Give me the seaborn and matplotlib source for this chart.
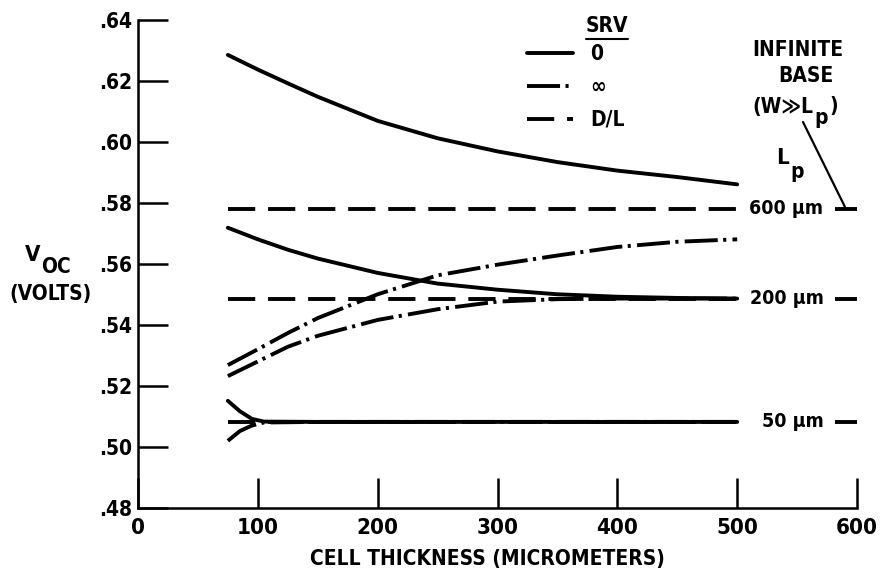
import matplotlib
matplotlib.use("Agg")
import matplotlib.pyplot as plt
import seaborn as sns
import pandas as pd

# ---------------- data ----------------
thickness = [75, 100, 125, 150, 200, 250, 300, 350, 400, 450, 500]
voc_srv0_lp600 = [0.6284, 0.6236, 0.6191, 0.6147, 0.6068, 0.6011, 0.5968, 0.5933, 0.5905, 0.5884, 0.5860]
voc_srv0_lp200 = [0.5718, 0.5680, 0.5646, 0.5617, 0.5570, 0.5535, 0.5515, 0.5500, 0.5492, 0.5488, 0.5486]
voc_srvinf_lp600 = [0.5268, 0.5320, 0.5373, 0.5422, 0.5500, 0.5562, 0.5597, 0.5627, 0.5655, 0.5672, 0.5680]
voc_srvinf_lp200 = [0.5232, 0.5280, 0.5328, 0.5364, 0.5416, 0.5451, 0.5476, 0.5484, 0.5486, 0.5486, 0.5486]

thickness_50 = [75, 85, 95, 105, 150, 200, 300, 400, 500]
voc_srv0_lp50 = [0.5151, 0.5117, 0.5092, 0.5083, 0.5082, 0.5082, 0.5082, 0.5082, 0.5082]
voc_srvinf_lp50 = [0.5020, 0.5052, 0.5070, 0.5080, 0.5082, 0.5082, 0.5082, 0.5082, 0.5082]

thickness_dl = [75, 500]
lp_labels = ["600 \u00b5m", "200 \u00b5m", "50 \u00b5m"]
voc_dl = [0.5780, 0.5486, 0.5082]          # D/L (flat) curves, and infinite-base values
infinite_base_x = [582, 600]

xticks = [0, 100, 200, 300, 400, 500, 600]
xtick_labels = ["0", "100", "200", "300", "400", "500", "600"]
yticks = [0.48, 0.50, 0.52, 0.54, 0.56, 0.58, 0.60, 0.62, 0.64]
ytick_labels = [".48", ".50", ".52", ".54", ".56", ".58", ".60", ".62", ".64"]
legend_labels = ["0", "\u221e", "D/L"]

# ---------------- style ----------------
sns.set_style("ticks")
FAM = ["DejaVu Sans"]
plt.rcParams["font.family"] = FAM
plt.rcParams["font.stretch"] = "condensed"
plt.rcParams["font.weight"] = "bold"
for k in ["text.color", "axes.labelcolor", "xtick.color", "ytick.color", "axes.edgecolor"]:
    plt.rcParams[k] = "black"

TXT = dict(family=FAM, fontweight="bold", fontstretch="condensed", color="black")
FS = 15

LW = 2.8
SOLID = "-"
DASHED = (0, (7, 3.3))
DASHDOT = (0, (8.5, 1.4, 0.8, 1.6))

W, H = 880, 575
fig = plt.figure(figsize=(W / 100, H / 100), dpi=100)
ax = fig.add_axes([138 / W, 1 - 508 / H, (857 - 138) / W, (508 - 19.5) / H])


def px(x, y):
    return (x / W, 1 - y / H)


def draw(x, y, ls):
    df = pd.DataFrame({"x": x, "y": y})
    sns.lineplot(data=df, x="x", y="y", ax=ax, color="black", linewidth=LW,
                 linestyle=ls, estimator=None, sort=False, legend=False)


# SRV = 0 (solid)
draw(thickness, voc_srv0_lp600, SOLID)
draw(thickness, voc_srv0_lp200, SOLID)
draw(thickness_50, voc_srv0_lp50, SOLID)
# SRV = infinity (dash-dot)
draw(thickness, voc_srvinf_lp600, DASHDOT)
draw(thickness, voc_srvinf_lp200, DASHDOT)
draw(thickness_50, voc_srvinf_lp50, DASHDOT)
# SRV = D/L (dashed, flat)
for v in voc_dl:
    draw(thickness_dl, [v, v], DASHED)
# infinite base markers
for v in voc_dl:
    ax.plot(infinite_base_x, [v, v], color="black", lw=LW, solid_capstyle="butt", clip_on=False)

# labels of Lp values
for lab, v in zip(lp_labels, voc_dl):
    ax.text(572, v, lab, ha="right", va="center", fontsize=14, **TXT)

# ---------------- axes ----------------
ax.set_xlim(0, 600)
ax.set_ylim(0.48, 0.64)
ax.set_xticks(xticks)
ax.set_xticklabels(xtick_labels)
ax.set_yticks(yticks)
ax.set_yticklabels(ytick_labels)
ax.tick_params(axis="both", direction="in", length=21.6, width=1.8, color="black")
ax.tick_params(axis="y", pad=4, labelsize=FS)
ax.tick_params(axis="x", pad=7, labelsize=FS + 1)
for lab in ax.get_xticklabels() + ax.get_yticklabels():
    lab.set_fontweight("bold")
    lab.set_fontstretch("condensed")
    lab.set_color("black")
sns.despine(ax=ax)
for s in ["left", "bottom"]:
    ax.spines[s].set_linewidth(1.8)
    ax.spines[s].set_color("black")
ax.set_xlabel("")
ax.set_ylabel("")

fig.text(*px(487, 559), "CELL THICKNESS (MICROMETERS)", ha="center", va="center", fontsize=FS, **TXT)
fig.text(*px(33, 255), "V", ha="center", va="center", fontsize=FS + 1, **TXT)
fig.text(*px(56, 267), "OC", ha="center", va="center", fontsize=FS, **TXT)
fig.text(*px(50, 294), "(VOLTS)", ha="center", va="center", fontsize=FS, **TXT)

# ---------------- legend ----------------
handles = [plt.Line2D([], [], color="black", lw=LW, linestyle=SOLID),
           plt.Line2D([], [], color="black", lw=LW, linestyle=DASHDOT),
           plt.Line2D([], [], color="black", lw=LW, linestyle=DASHED)]
leg = ax.legend(handles, legend_labels, loc="upper left", bbox_to_anchor=px(527, 44),
                bbox_transform=fig.transFigure, frameon=False, borderpad=0, borderaxespad=0,
                handlelength=2.2, handletextpad=0.85, labelspacing=0.62,
                prop={"family": FAM, "weight": "bold", "stretch": "condensed", "size": FS})
for t in leg.get_texts():
    t.set_color("black")
fig.text(*px(607, 26), "SRV", ha="center", va="center", fontsize=FS, **TXT)
fig.add_artist(plt.Line2D([586 / W, 628 / W], [1 - 39 / H, 1 - 39 / H], color="black", lw=1.5))

# ---------------- infinite base annotation ----------------
fig.text(*px(798, 50), "INFINITE", ha="center", va="center", fontsize=FS, **TXT)
fig.text(*px(806, 76), "BASE", ha="center", va="center", fontsize=FS, **TXT)
fig.text(*px(813, 107), "(W\u226bL", ha="right", va="center", fontsize=FS, **TXT)
fig.text(*px(814, 118), "p", ha="left", va="center", fontsize=FS, **TXT)
fig.text(*px(829, 106), ")", ha="left", va="center", fontsize=FS, **TXT)
fig.text(*px(789, 158), "L", ha="right", va="center", fontsize=FS + 1, **TXT)
fig.text(*px(790, 172), "p", ha="left", va="center", fontsize=FS, **TXT)
fig.add_artist(plt.Line2D([803 / W, 845 / W], [1 - 122 / H, 1 - 207 / H], color="black", lw=1.6))

fig.savefig("out.png", dpi=100)
